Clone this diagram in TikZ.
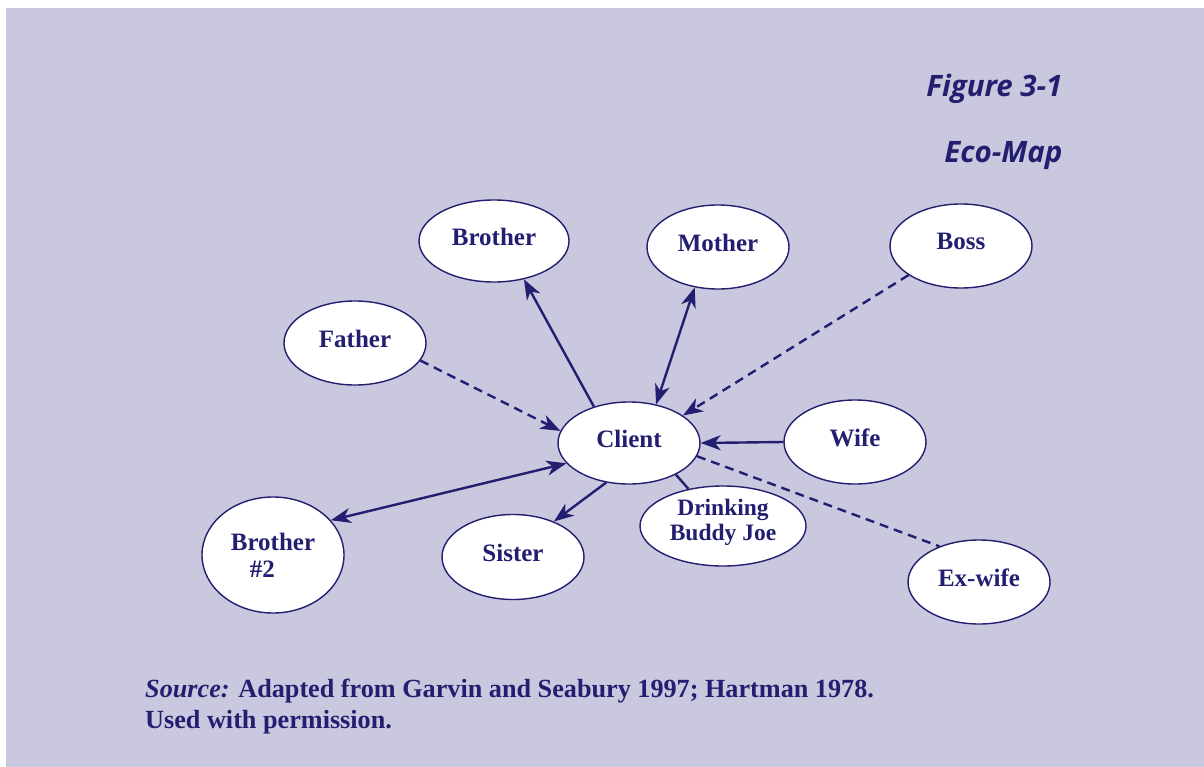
\documentclass[tikz,border=0pt]{standalone}
\usepackage{fontspec}
\usetikzlibrary{shapes.geometric,arrows.meta}
\newfontfamily\titlefont{Open Sans}
\setmainfont{Liberation Serif}
\definecolor{bgcol}{RGB}{201,200,223}
\definecolor{navy}{RGB}{35,31,112}
\begin{document}
\begin{tikzpicture}[x=1pt,y=-1pt,
  eco/.style={ellipse,draw=navy,line width=1.4pt,fill=white,inner sep=0pt,
    minimum width=142pt,minimum height=84pt,text=navy,text depth=9pt,
    font=\fontsize{25}{27}\selectfont\bfseries,align=center},
  link/.style={draw=navy,line width=2.4pt},
  dlink/.style={link,dash pattern=on 9pt off 6pt},
  tip/.style={-{Stealth[length=20pt,width=15pt,inset=6pt]}},
  tips/.style={{Stealth[length=20pt,width=15pt,inset=6pt]}-{Stealth[length=20pt,width=15pt,inset=6pt]}}
]
\useasboundingbox (0,0) rectangle (1204,767);
\fill[white] (0,0) rectangle (1204,767);
\fill[bgcol] (6,8) rectangle (1204,767);

\node[anchor=base east,text=navy,font=\titlefont\fontsize{29.5}{32}\selectfont\bfseries\itshape] (fig) at (1066,97) {Figure 3-1};
\node[anchor=base east,text=navy,font=\titlefont\fontsize{29.5}{32}\selectfont\bfseries\itshape] (eco) at (1066,163) {Eco-Map};

\node[eco,minimum width=150pt,minimum height=82pt] (brother) at (494,241) {Brother};
\node[eco] (mother) at (718,247) {Mother};
\node[eco] (boss) at (961,246) {Boss};
\node[eco] (father) at (355,343) {Father};
\node[eco,minimum height=82pt] (client) at (629,443) {Client};
\node[eco] (wife) at (855,442) {Wife};
\node[eco,minimum height=116pt,align=left,text depth=0pt] (brother2) at (273,555) {Brother\\\hspace{19pt}\#2};
\node[eco,minimum height=85pt] (sister) at (513,557) {Sister};
\node[eco,minimum width=166pt,minimum height=80pt,text depth=13pt,font=\fontsize{23.5}{25}\selectfont\bfseries] (buddy) at (723,526) {Drinking\\Buddy Joe};
\node[eco] (exwife) at (979,582) {Ex-wife};

\draw[link,tip] (client.134) -- (brother.308);
\draw[link,tips] (client.55) -- (mother.240);
\draw[dlink,tip] (boss.209) -- (client.27);
\draw[dlink,tip] (father.345) -- (client.170);
\draw[link,tip] (wife.180) -- (client.0);
\draw[link,tips] (client.198) -- (brother2.31);
\draw[link,tip] (client.240) -- (sister.41);
\draw[link] (client.326) -- (buddy.133);
\draw[dlink] (client.349) -- (exwife.138);

\node[anchor=base west,text=navy,font=\fontsize{26.2}{31}\selectfont\bfseries,align=left,inner sep=0pt] (src) at (145,728)
  {{\itshape Source:} Adapted from Garvin and Seabury 1997; Hartman 1978.\\Used with permission.};
\end{tikzpicture}
\end{document}
